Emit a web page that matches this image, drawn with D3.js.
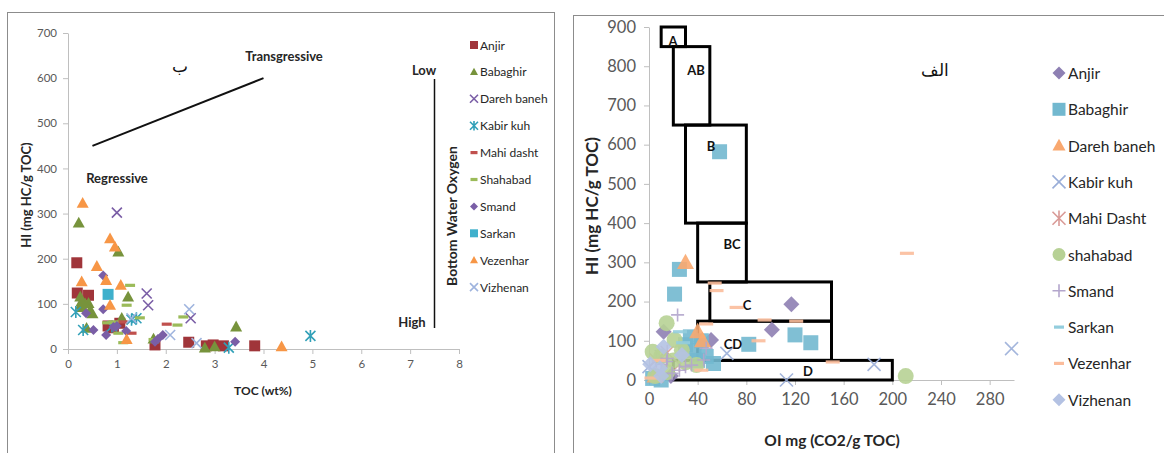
<!DOCTYPE html>
<html>
<head>
<meta charset="utf-8">
<script src="https://cdnjs.cloudflare.com/ajax/libs/d3/7.8.5/d3.min.js"></script>
<style>
  body { margin: 0; background: #fff; }
  svg { font-family: Lato, "Open Sans", sans-serif; }
  .tick text { fill: #595959; }
  .domain, .tick line { stroke: #bfbfbf; }
</style>
</head>
<body>
<div id="chart"></div>
<script>
// ---- left chart (HI vs TOC) data ----
var leftNames = ["Anjir", "Babaghir", "Dareh baneh", "Kabir kuh", "Mahi dasht", "Shahabad", "Smand", "Sarkan", "Vezenhar", "Vizhenan"];
var leftAnjir = [[0.18,191],[0.19,124],[0.42,119],[0.82,51],[1.06,57],[0.93,47],[1.78,9],[2.47,15],[2.83,7],[2.97,9],[3.18,7],[3.82,7]];
var leftBabaghir = [[0.22,279],[1.03,215],[0.25,115],[0.42,101],[0.26,97],[0.3,92],[0.35,100],[0.45,85],[0.5,78],[0.28,105],[1.23,115],[1.1,68],[0.38,46],[3.44,49],[2.8,2],[3.0,5],[1.75,22]];
var leftDareh = [[1.0,302],[1.61,123],[1.64,97],[2.51,68]];
var leftKabir = [[0.16,82],[0.31,42],[1.3,65],[1.4,68],[4.96,29],[3.29,3],[0.9,50]];
var leftMahi = [[2.02,55],[1.3,35],[1.12,60]];
var leftShahabad = [[1.27,141],[1.2,97],[1.47,69],[0.93,60],[1.03,35],[1.13,14],[2.24,53],[2.36,71],[1.75,21],[0.8,58]];
var leftSmand = [[0.72,163],[0.72,88],[0.37,79],[0.52,42],[0.78,31],[0.93,49],[1.0,51],[1.19,40],[1.78,16],[1.94,31],[1.84,22],[3.42,16]];
var leftSarkan = [[0.82,121]];
var leftVezenhar = [[0.3,323],[0.86,244],[0.96,226],[0.59,183],[0.28,149],[0.78,152],[1.08,141],[0.86,97],[1.2,21],[4.37,5]];
var leftVizhenan = [[2.48,88],[2.09,31],[2.63,13],[1.3,68]];
var leftSeries = [leftAnjir, leftBabaghir, leftDareh, leftKabir, leftMahi, leftShahabad, leftSmand, leftSarkan, leftVezenhar, leftVizhenan];
var leftXTicks = [0,1,2,3,4,5,6,7,8];
var leftYTicks = [0,100,200,300,400,500,600,700];

// ---- right chart (HI vs OI) data ----
var rightNames = ["Anjir", "Babaghir", "Dareh baneh", "Kabir kuh", "Mahi Dasht", "shahabad", "Smand", "Sarkan", "Vezenhar", "Vizhenan"];
var rightAnjir = [[117,193],[101,128],[51,102],[12,123],[43,98],[18,10]];
var rightBabaghir = [[58,582],[25,282],[21,219],[82,91],[120,115],[133,95],[53,42],[34,110],[43,100],[37,75],[47,60],[3,4],[10,0],[30,90],[40,50]];
var rightDareh = [[30,299],[40,123],[44,100],[5,10]];
var rightKabir = [[113,0],[64,68],[298,80],[185,40],[0,34],[10,60]];
var rightMahi = [[6,51],[15,70],[25,40]];
var rightShahabad = [[211,10],[14.5,145],[21,102],[39,38],[3,72],[27,76],[10,60],[20,50],[30,45],[15,20],[5,10]];
var rightSmand = [[23.5,166],[47,81],[45,51],[14.5,47],[30,34],[35,38],[19,17],[10,40],[25,25],[15,55]];
var rightSarkan = [[25.5,123],[28,95]];
var rightVezenhar = [[212,323],[54,247],[55.5,228],[72,185],[95,153],[121,150],[47,143],[90,100],[43,25],[151,46],[2,5],[8,50]];
var rightVizhenan = [[12,85],[27,64],[9,30],[10,10],[1,40]];
var rightSeries = [rightAnjir, rightBabaghir, rightDareh, rightKabir, rightMahi, rightShahabad, rightSmand, rightSarkan, rightVezenhar, rightVizhenan];
var rightXTicks = [0,40,80,120,160,200,240,280];
var rightYTicks = [0,100,200,300,400,500,600,700,800,900];

// facies zones: label, OI from, OI to, HI from, HI to
var zoneLabels = ["A", "AB", "B", "BC", "C", "CD", "D"];
var zoneOI = [[10,30],[20,50],[30,80],[40,80],[50,150],[40,150],[20,200]];
var zoneHI = [[850,900],[650,850],[400,650],[250,400],[150,250],[50,150],[0,50]];

// ---- styles ----
var leftShapes = ["square","triangle","x","asterisk","dash","dash","diamond","square","triangle","x"];
var leftColors = ["#a0353a","#77933c","#7a5ea6","#31a0b8","#c0504d","#9bbb59","#7a5ea6","#3fb0cc","#f79646","#9fb4de"];
var rightShapes = ["diamond","square","triangle","x","asterisk","circle","plus","dash","dash","diamond"];
var rightColors = ["#8e80b3","#72b8cf","#f9a86f","#9aaed8","#d99a97","#b7d195","#b3a6cc","#93cddd","#fbbc9b","#b4c2e3"];

function shapePath(type, s) {
  switch (type) {
    case "square": return "M"+(-s)+","+(-s)+"h"+2*s+"v"+2*s+"h"+(-2*s)+"Z";
    case "triangle": return "M0,"+(-s*1.05)+"L"+s+","+(s*0.75)+"L"+(-s)+","+(s*0.75)+"Z";
    case "diamond": return "M0,"+(-s)+"L"+s+",0L0,"+s+"L"+(-s)+",0Z";
    case "circle": return d3.symbol(d3.symbolCircle, Math.PI*s*s)();
    case "x": return "M"+(-s)+","+(-s)+"L"+s+","+s+"M"+(-s)+","+s+"L"+s+","+(-s);
    case "plus": return "M"+(-s)+",0H"+s+"M0,"+(-s)+"V"+s;
    case "asterisk": return "M"+(-s)+","+(-s)+"L"+s+","+s+"M"+(-s)+","+s+"L"+s+","+(-s)+"M0,"+(-s*1.2)+"V"+(s*1.2);
    case "dash": return "M"+(-s)+",-1.6h"+2*s+"v3.2h"+(-2*s)+"Z";
  }
}
function isStroke(type) { return type == "x" || type == "plus" || type == "asterisk"; }

function drawMark(g, type, color, s, opacity) {
  var p = g.append("path").attr("d", shapePath(type, s));
  if (isStroke(type)) p.attr("fill", "none").attr("stroke", color).attr("stroke-width", 1.6).attr("stroke-opacity", opacity);
  else p.attr("fill", color).attr("fill-opacity", opacity);
  return p;
}

var svg = d3.select("#chart").append("svg").attr("width", 1164).attr("height", 453);

// frames
svg.append("rect").attr("x", 7.5).attr("y", 12.5).attr("width", 547).attr("height", 470)
  .attr("fill", "none").attr("stroke", "#8c8c8c");
svg.append("rect").attr("x", 573.5).attr("y", 15.5).attr("width", 620).attr("height", 470)
  .attr("fill", "none").attr("stroke", "#8c8c8c");

// ================= left chart =================
var xL = d3.scaleLinear().domain([0, 8]).range([68, 459]);
var yL = d3.scaleLinear().domain([0, 700]).range([349, 33]);

var gL = svg.append("g");
gL.append("g").attr("transform", "translate(0,349)")
  .call(d3.axisBottom(xL).tickValues(leftXTicks).tickSize(5).tickSizeOuter(0).tickPadding(6))
  .attr("font-size", 11.5).attr("font-family", null);
gL.append("g").attr("transform", "translate(68,0)")
  .call(d3.axisLeft(yL).tickValues(leftYTicks).tickSize(5).tickSizeOuter(0).tickPadding(6))
  .attr("font-size", 11.5).attr("font-family", null);

gL.append("text").attr("transform", "translate(26,195) rotate(-90)")
  .attr("dy", "0.35em")
  .attr("text-anchor", "middle").attr("font-size", 13).attr("font-weight", "bold").attr("fill", "#262626")
  .text("HI (mg HC/g TOC)");
gL.append("text").attr("x", 263).attr("y", 395)
  .attr("text-anchor", "middle").attr("font-size", 12).attr("font-weight", "bold").attr("fill", "#262626")
  .text("TOC (wt%)");

// trend line and annotations
gL.append("line").attr("x1", xL(0.5)).attr("y1", yL(450)).attr("x2", xL(4)).attr("y2", yL(600))
  .attr("stroke", "#111").attr("stroke-width", 2);
gL.append("text").attr("x", 284).attr("y", 61).attr("text-anchor", "middle")
  .attr("font-size", 13).attr("font-weight", "bold").attr("fill", "#262626").text("Transgressive");
gL.append("text").attr("x", 117).attr("y", 183).attr("text-anchor", "middle")
  .attr("font-size", 13).attr("font-weight", "bold").attr("fill", "#262626").text("Regressive");
gL.append("text").attr("x", 180).attr("y", 72).attr("text-anchor", "middle")
  .attr("font-size", 17).attr("font-family", "DejaVu Serif, serif").attr("fill", "#111").text("ب");
gL.append("text").attr("x", 424).attr("y", 75).attr("text-anchor", "middle")
  .attr("font-size", 13).attr("font-weight", "bold").attr("fill", "#262626").text("Low");
gL.append("text").attr("x", 412).attr("y", 327).attr("text-anchor", "middle")
  .attr("font-size", 13).attr("font-weight", "bold").attr("fill", "#262626").text("High");
gL.append("line").attr("x1", 434.5).attr("y1", 79).attr("x2", 434.5).attr("y2", 328)
  .attr("stroke", "#111").attr("stroke-width", 1.5);
gL.append("text").attr("transform", "translate(452,216) rotate(-90)")
  .attr("dy", "0.35em")
  .attr("text-anchor", "middle").attr("font-size", 14).attr("font-weight", "bold").attr("fill", "#262626")
  .text("Bottom Water Oxygen");

// left points
leftSeries.forEach(function(data, i) {
  var size = leftShapes[i] == "triangle" ? 6 : (leftShapes[i] == "square" ? 5.5 : 5);
  gL.append("g").selectAll("g").data(data).enter().append("g")
    .attr("transform", function(d) { return "translate(" + xL(d[0]) + "," + yL(d[1]) + ")"; })
    .each(function() { drawMark(d3.select(this), leftShapes[i], leftColors[i], size, 1); });
});

// left legend
var legL = gL.append("g");
leftNames.forEach(function(name, i) {
  var yy = 45 + i * 26.9;
  var m = legL.append("g").attr("transform", "translate(474," + yy + ")");
  drawMark(m, leftShapes[i], leftColors[i], leftShapes[i] == "dash" ? 3.5 : 4, 1);
  legL.append("text").attr("x", 480).attr("y", yy + 4.5).attr("font-size", 12).attr("fill", "#262626").text(name);
});

// ================= right chart =================
var xR = d3.scaleLinear().domain([0, 300]).range([649, 1014]);
var yR = d3.scaleLinear().domain([0, 900]).range([380, 27]);

var gR = svg.append("g");
gR.append("g").attr("transform", "translate(0,380)")
  .call(d3.axisBottom(xR).tickValues(rightXTicks).tickSize(5).tickSizeOuter(0).tickPadding(8))
  .attr("font-size", 16.5).attr("font-family", null);
gR.append("g").attr("transform", "translate(649,0)")
  .call(d3.axisLeft(yR).tickValues(rightYTicks).tickSize(5).tickSizeOuter(0).tickPadding(8))
  .attr("font-size", 16.5).attr("font-family", null);

gR.append("text").attr("transform", "translate(592,206) rotate(-90)")
  .attr("dy", "0.35em")
  .attr("text-anchor", "middle").attr("font-size", 17).attr("font-weight", "bold").attr("fill", "#262626")
  .text("HI (mg HC/g TOC)");
gR.append("text").attr("x", 832).attr("y", 446)
  .attr("text-anchor", "middle").attr("font-size", 15.5).attr("font-weight", "bold").attr("fill", "#262626")
  .text("OI mg (CO2/g TOC)");

// zones
zoneLabels.forEach(function(lab, i) {
  gR.append("rect")
    .attr("x", xR(zoneOI[i][0])).attr("y", yR(zoneHI[i][1]))
    .attr("width", xR(zoneOI[i][1]) - xR(zoneOI[i][0]))
    .attr("height", yR(zoneHI[i][0]) - yR(zoneHI[i][1]))
    .attr("fill", "none").attr("stroke", "#000").attr("stroke-width", 3);
});

// right points
rightSeries.forEach(function(data, i) {
  var t = rightShapes[i];
  var size = t == "triangle" ? 8.5 : t == "square" ? 7.5 : t == "diamond" ? 8 : t == "circle" ? 8 : t == "dash" ? 7 : 6.5;
  gR.append("g").selectAll("g").data(data).enter().append("g")
    .attr("transform", function(d) { return "translate(" + xR(d[0]) + "," + yR(d[1]) + ")"; })
    .each(function() { drawMark(d3.select(this), t, rightColors[i], size, 0.9); });
});

// zone labels
var zoneLabelPos = [[673,41],[696,70],[711,146],[732,244],[747,305],[733,344],[808,371]];
zoneLabels.forEach(function(lab, i) {
  gR.append("text").attr("x", zoneLabelPos[i][0]).attr("y", zoneLabelPos[i][1] + 5)
    .attr("text-anchor", "middle").attr("font-size", 13).attr("font-weight", "bold").attr("fill", "#111")
    .text(lab);
});
gR.append("text").attr("x", 935).attr("y", 76).attr("text-anchor", "middle")
  .attr("font-size", 17).attr("font-family", "DejaVu Serif, serif").attr("fill", "#111").text("الف");

// right legend
var legR = gR.append("g");
rightNames.forEach(function(name, i) {
  var yy = 73 + i * 36.3;
  var m = legR.append("g").attr("transform", "translate(1059," + yy + ")");
  var t = rightShapes[i];
  drawMark(m, t, rightColors[i], t == "dash" ? 5 : 6.5, 1);
  legR.append("text").attr("x", 1068).attr("y", yy + 6).attr("font-size", 15.5).attr("fill", "#262626").text(name);
});
</script>
</body>
</html>
